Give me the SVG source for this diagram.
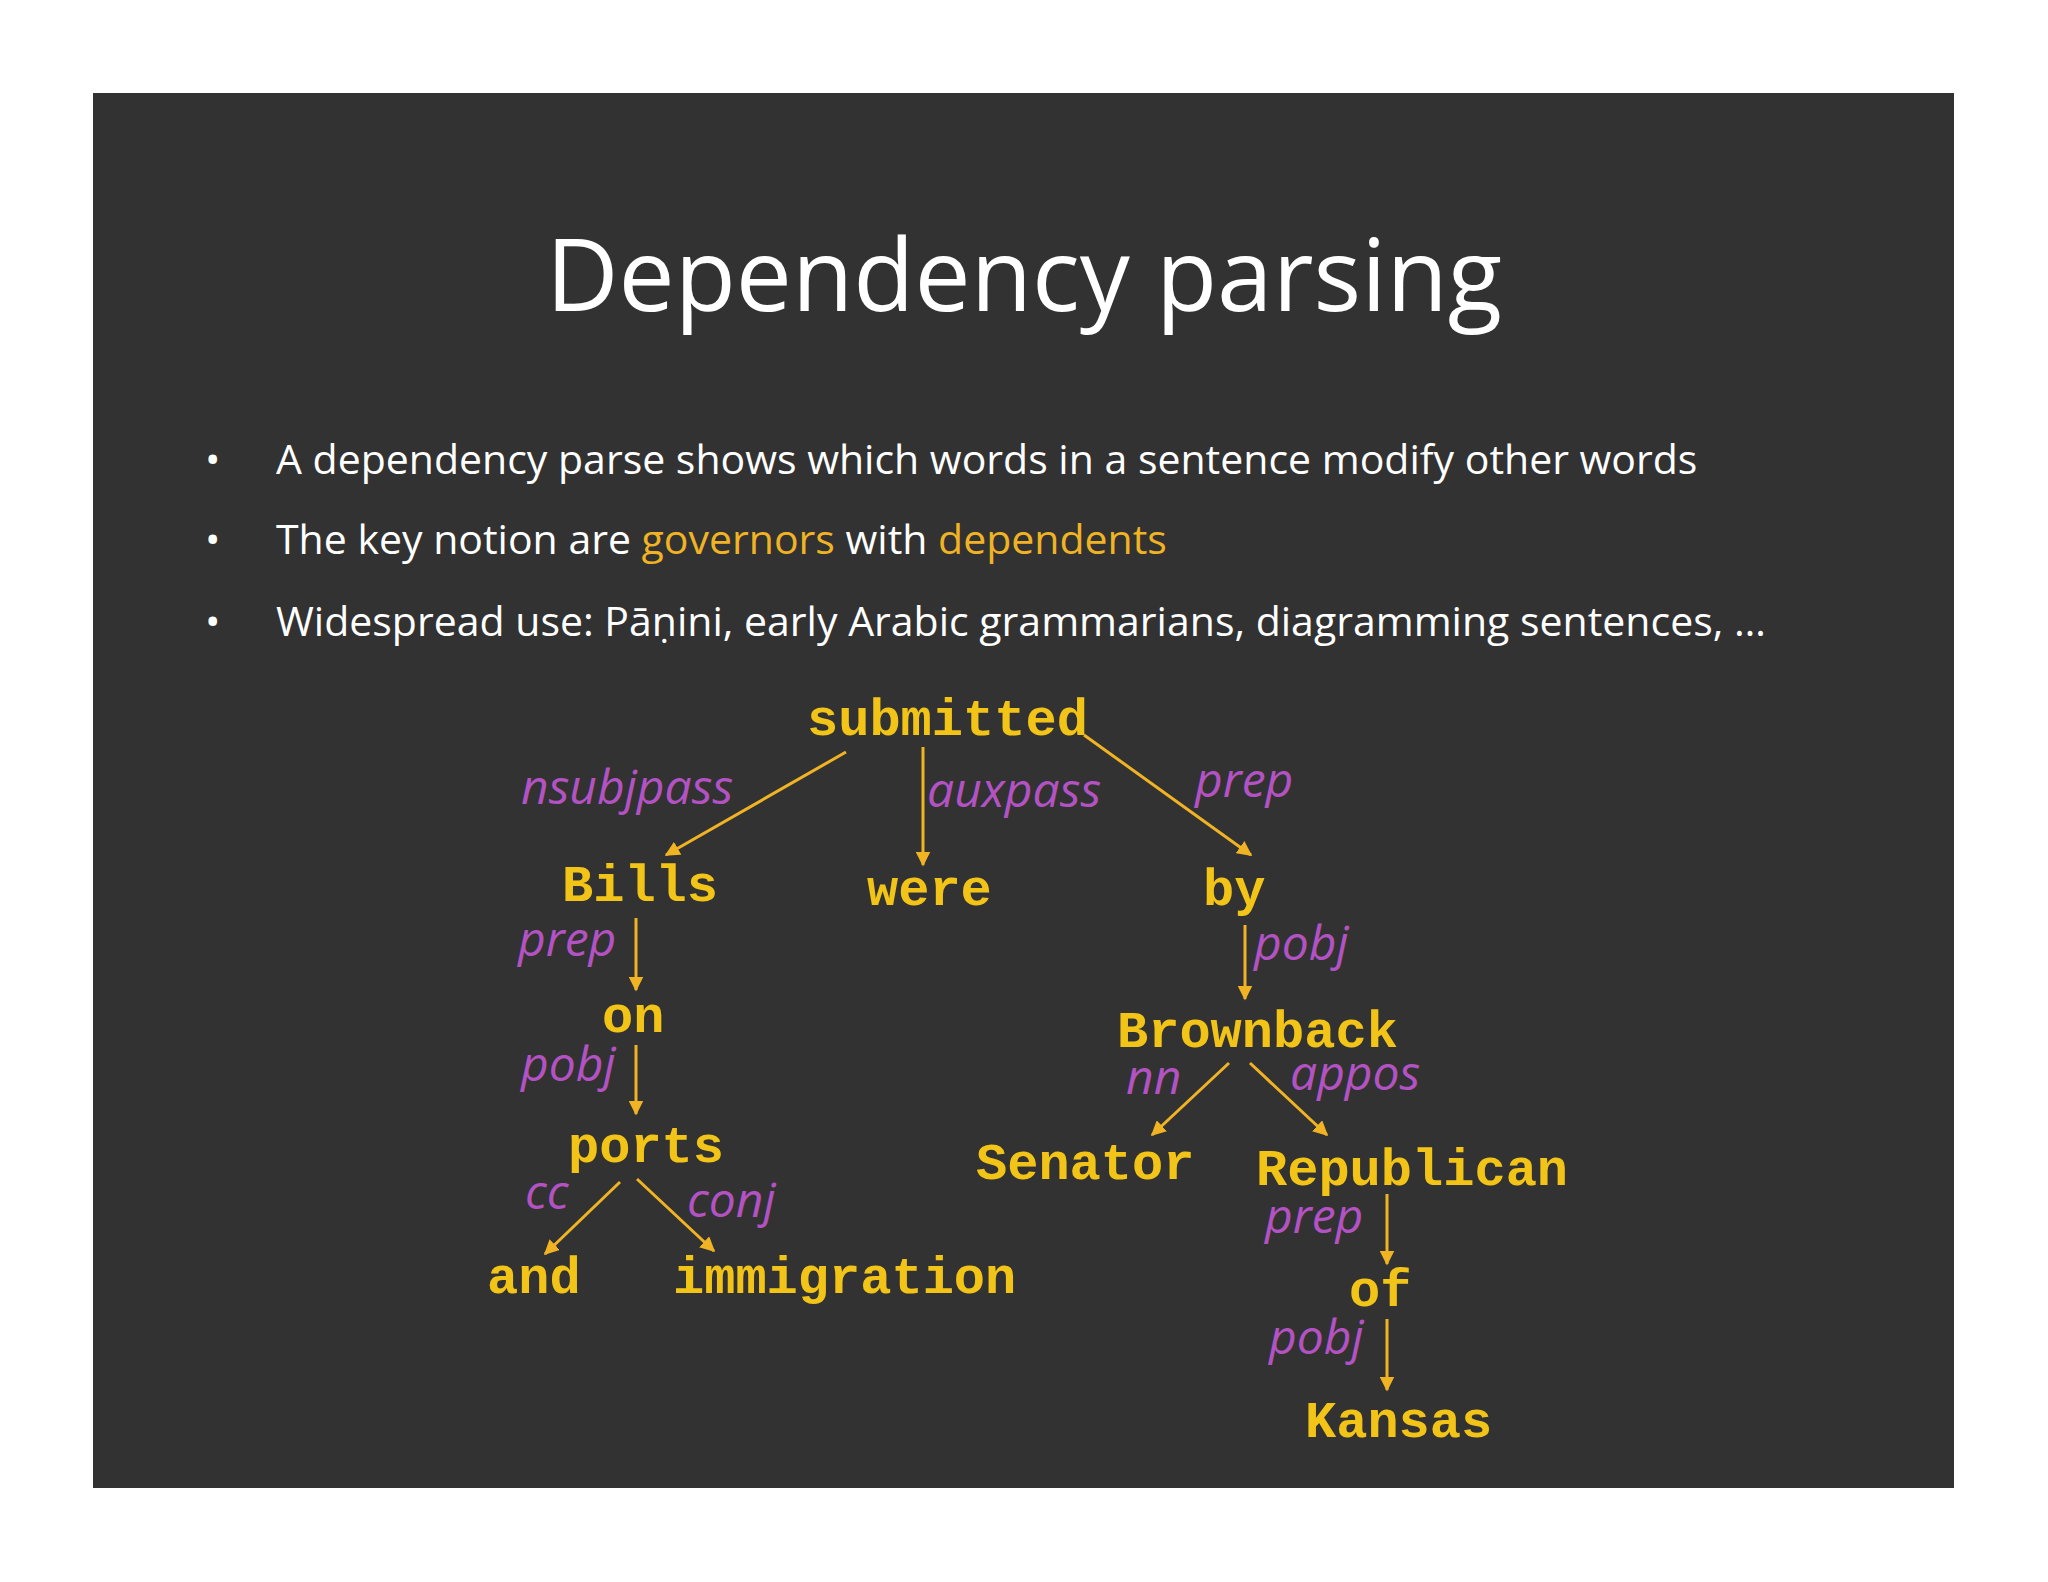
<svg xmlns="http://www.w3.org/2000/svg" width="2048" height="1582" viewBox="0 0 2048 1582">
<style>
.t{font-family:"Open Sans","Liberation Sans",sans-serif;fill:#fff}
.w{font-family:"Liberation Mono","Courier New",monospace;font-weight:bold;font-size:52px;fill:#f2c417}
.l{font-family:"Open Sans","Liberation Sans",sans-serif;font-style:italic;font-size:48px;fill:#b353c3}
.hl{fill:#f0b323}
#edges line{stroke:#f0b323;stroke-width:3;marker-end:url(#a)}
</style>
<defs><marker id="a" viewBox="0 0 10 10" refX="9" refY="5" markerWidth="5" markerHeight="5" orient="auto" markerUnits="strokeWidth"><path d="M0,0L10,5L0,10z" fill="#f0b323"/></marker></defs>
<rect width="2048" height="1582" fill="#fff"/>
<rect x="93" y="93" width="1861" height="1395" fill="#323232"/>
<text class="t" x="1024" y="311" font-size="100" text-anchor="middle">Dependency parsing</text>
<g class="t" font-size="41">
<text x="205" y="474">•</text><text x="276" y="474">A dependency parse shows which words in a sentence modify other words</text>
<text x="205" y="554">•</text><text x="276" y="554">The key notion are <tspan class="hl">governors</tspan> with <tspan class="hl">dependents</tspan></text>
<text x="205" y="636">•</text><text x="276" y="636">Widespread use: Pāṇini, early Arabic grammarians, diagramming sentences, …</text>
</g>
<g id="edges">
<line x1="846" y1="752" x2="666" y2="855"/>
<line x1="923" y1="747" x2="923" y2="865"/>
<line x1="1084" y1="735" x2="1251" y2="855"/>
<line x1="636" y1="918" x2="636" y2="990"/>
<line x1="1245" y1="925" x2="1245" y2="999"/>
<line x1="636" y1="1045" x2="636" y2="1114"/>
<line x1="1229" y1="1063" x2="1152" y2="1135"/>
<line x1="1250" y1="1063" x2="1327" y2="1135"/>
<line x1="620" y1="1182" x2="545" y2="1254"/>
<line x1="637" y1="1179" x2="714" y2="1251"/>
<line x1="1387" y1="1194" x2="1387" y2="1264"/>
<line x1="1387" y1="1319" x2="1387" y2="1390"/>
</g>
<g id="n-submitted"><text class="w" x="807" y="735">submitted</text></g>
<g id="n-bills"><text class="w" x="562" y="901">Bills</text></g>
<g id="n-were"><text class="w" x="867" y="905">were</text></g>
<g id="n-by"><text class="w" x="1203" y="905">by</text></g>
<g id="n-on"><text class="w" x="602" y="1032">on</text></g>
<g id="n-brownback"><text class="w" x="1117" y="1047">Brownback</text></g>
<g id="n-ports"><text class="w" x="568" y="1162">ports</text></g>
<g id="n-senator"><text class="w" x="976" y="1179">Senator</text></g>
<g id="n-republican"><text class="w" x="1256" y="1185">Republican</text></g>
<g id="n-and"><text class="w" x="487" y="1293">and</text></g>
<g id="n-immigration"><text class="w" x="673" y="1293">immigration</text></g>
<g id="n-of"><text class="w" x="1349" y="1306">of</text></g>
<g id="n-kansas"><text class="w" x="1305" y="1437">Kansas</text></g>
<g id="labels">
<text class="l" x="521" y="804">nsubjpass</text>
<text class="l" x="927" y="807">auxpass</text>
<text class="l" x="1195" y="797">prep</text>
<text class="l" x="518" y="956">prep</text>
<text class="l" x="1254" y="960">pobj</text>
<text class="l" x="521" y="1081">pobj</text>
<text class="l" x="1126" y="1094">nn</text>
<text class="l" x="1290" y="1090">appos</text>
<text class="l" x="525" y="1209">cc</text>
<text class="l" x="687" y="1217">conj</text>
<text class="l" x="1265" y="1233">prep</text>
<text class="l" x="1269" y="1354">pobj</text>
</g>
</svg>
